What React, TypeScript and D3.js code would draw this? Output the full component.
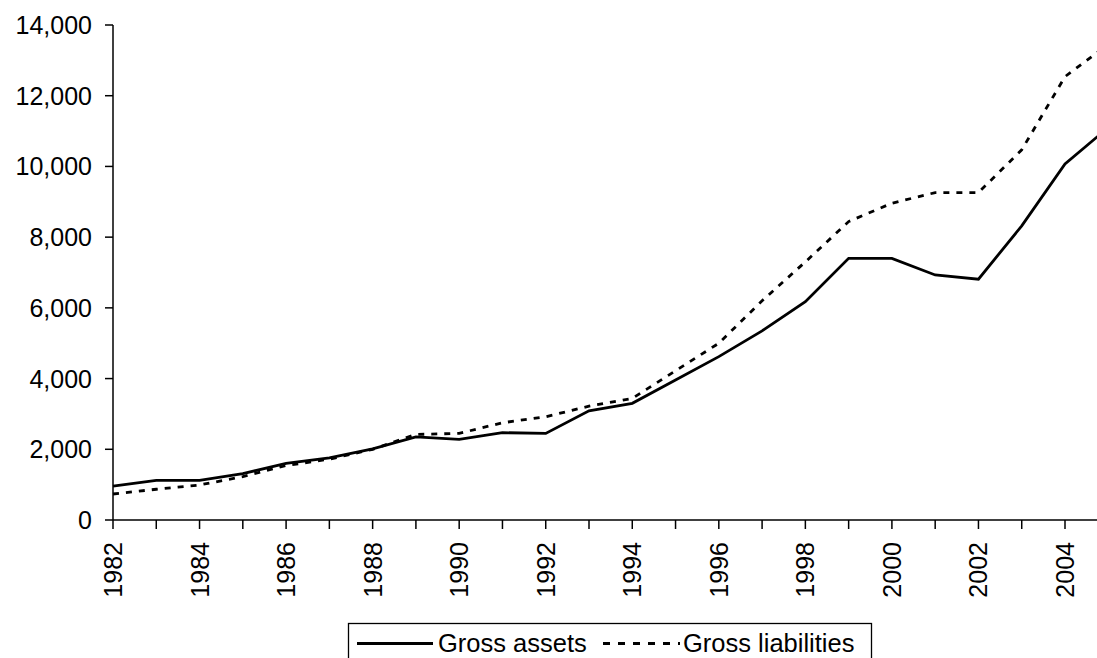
import React from "react";
import * as d3 from "d3";

const years = [1982,1983,1984,1985,1986,1987,1988,1989,1990,1991,1992,1993,1994,1995,1996,1997,1998,1999,2000,2001,2002,2003,2004,2005];
const grossAssets = [960,1120,1120,1310,1600,1760,2010,2350,2280,2470,2450,3090,3300,3960,4620,5350,6175,7400,7400,6930,6810,8320,10070,11100];
const grossLiabilities = [735,870,990,1225,1540,1720,2000,2420,2450,2750,2920,3220,3440,4220,5000,6200,7300,8440,8960,9260,9260,10470,12540,13450];
const yTicks = [0,2000,4000,6000,8000,10000,12000,14000];
const xTickLabels = [1982,1984,1986,1988,1990,1992,1994,1996,1998,2000,2002,2004];
const seriesNames = ["Gross assets", "Gross liabilities"];

export default function App() {
  const W = 1097, H = 658;
  const x0 = 113, yBase = 520;
  const x = d3.scaleLinear().domain([1982, 2004]).range([x0, 1065]);
  const y = d3.scaleLinear().domain([0, 14000]).range([yBase, 25]);
  const line = d3.line<number>().x((_, i) => x(years[i])).y((d) => y(d));
  const fmt = d3.format(",");
  const font = "Liberation Sans, Arial, sans-serif";
  const dash = "6 7";
  return (
    <div style={{ position: "absolute", left: 0, top: 0, width: W, height: H, overflow: "hidden", background: "#fff" }}>
      <svg width={W} height={H} style={{ display: "block" }} fontFamily={font}>
        <rect width={W} height={H} fill="#fff" />
        {/* y axis */}
        <line x1={x0} x2={x0} y1={y(14000)} y2={yBase} stroke="#000" strokeWidth={1.5} />
        {yTicks.map((t) => (
          <g key={t}>
            <line x1={x0 - 8} x2={x0} y1={y(t)} y2={y(t)} stroke="#000" strokeWidth={1.5} />
            <text x={92} y={y(t)} dy="0.36em" textAnchor="end" fontSize={25} fill="#000">{fmt(t)}</text>
          </g>
        ))}
        {/* x axis */}
        <line x1={x0} x2={W} y1={yBase} y2={yBase} stroke="#000" strokeWidth={1.5} />
        {years.map((yr) => (
          <line key={yr} x1={x(yr)} x2={x(yr)} y1={yBase} y2={yBase + 9} stroke="#000" strokeWidth={1.5} />
        ))}
        {xTickLabels.map((yr) => (
          <text key={yr} transform={`translate(${x(yr)},${yBase + 22}) rotate(-90)`} dy="0.36em" textAnchor="end" fontSize={25} fill="#000">{yr}</text>
        ))}
        {/* series */}
        <path d={line(grossLiabilities) || ""} fill="none" stroke="#000" strokeWidth={2.8} strokeDasharray={dash} />
        <path d={line(grossAssets) || ""} fill="none" stroke="#000" strokeWidth={2.8} strokeLinejoin="miter" />
        {/* legend */}
        <rect x={348.5} y={623.5} width={523} height={50} fill="#fff" stroke="#000" strokeWidth={1.3} />
        <line x1={357} x2={433} y1={643.5} y2={643.5} stroke="#000" strokeWidth={2.8} />
        <text x={438} y={652} fontSize={25.5} fill="#000">{seriesNames[0]}</text>
        <line x1={603} x2={680} y1={643.5} y2={643.5} stroke="#000" strokeWidth={2.8} strokeDasharray="7 8" />
        <text x={683} y={652} fontSize={25.5} fill="#000">{seriesNames[1]}</text>
      </svg>
    </div>
  );
}
